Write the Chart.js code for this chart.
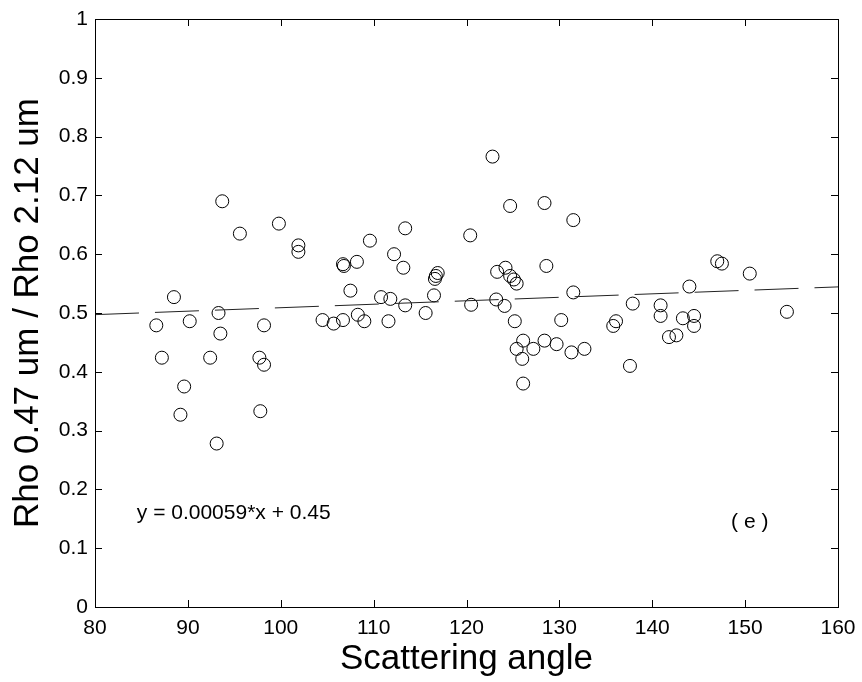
<!DOCTYPE html>
<html>
<head>
<meta charset="utf-8">
<script src="https://cdn.jsdelivr.net/npm/chart.js@4.4.1/dist/chart.umd.min.js"></script>
<style>
  body { margin: 0; background: #fff; }
  #wrap { width: 862px; height: 682px; }
</style>
</head>
<body>
<div id="wrap"><canvas id="scatterChart" width="862" height="682"></canvas></div>
<script>
// scattering angle (deg) and reflectance ratio
const angles = [
  93.7, 95.6, 99.8, 88.5, 86.6, 90.2, 93.3, 93.5, 98.2, 87.2, 92.4, 97.7, 98.2, 89.6, 89.2, 97.8, 93.1,
  101.9, 101.9, 109.6, 113.4, 120.4, 112.2, 113.2, 106.7, 106.8, 108.2, 116.9, 116.7, 116.6, 107.5,
  110.8, 111.8, 116.5, 113.4, 120.5, 115.6, 104.5, 105.7, 106.7, 108.3, 109.0, 111.6,
  122.8, 124.7, 128.4, 131.5, 128.6, 123.3, 124.2, 124.7, 125.1, 125.4, 131.5, 123.2, 124.1, 137.9,
  125.2, 130.2, 140.9, 140.9, 136.1, 135.8, 126.1, 128.4, 129.7, 125.4, 127.2, 131.3, 132.7, 126.0,
  137.6, 126.1,
  141.8, 142.6, 143.3, 144.5, 144.5, 144.0, 147.0, 147.5, 150.5, 154.5
]
const ratios = [
  0.690, 0.635, 0.652, 0.527, 0.479, 0.486, 0.500, 0.465, 0.479, 0.424, 0.424, 0.424, 0.412, 0.375, 0.327, 0.333, 0.278,
  0.615, 0.604, 0.623, 0.644, 0.632, 0.600, 0.577, 0.583, 0.580, 0.587, 0.568, 0.563, 0.558, 0.538,
  0.527, 0.524, 0.530, 0.513, 0.514, 0.500, 0.488, 0.482, 0.488, 0.497, 0.486, 0.486,
  0.766, 0.682, 0.687, 0.658, 0.580, 0.570, 0.577, 0.563, 0.557, 0.550, 0.535, 0.523, 0.512, 0.516,
  0.486, 0.488, 0.513, 0.495, 0.486, 0.478, 0.453, 0.453, 0.447, 0.439, 0.439, 0.433, 0.439, 0.422,
  0.410, 0.380,
  0.459, 0.462, 0.491, 0.495, 0.478, 0.545, 0.588, 0.584, 0.567, 0.502
]

// fitted line y = slope*x + intercept, drawn across the x range
const fitSlope = 0.00059
const fitIntercept = 0.45
const fitRange = [80, 160]

const xTicks = [80, 90, 100, 110, 120, 130, 140, 150, 160]
const yTicks = [0, 0.1, 0.2, 0.3, 0.4, 0.5, 0.6, 0.7, 0.8, 0.9, 1]

const fontFamily = "'Liberation Sans', Arial, Helvetica, sans-serif"

const points = angles.map((a, i) => ({ x: a, y: ratios[i] }))
const fitLine = fitRange.map(x => ({ x: x, y: fitSlope * x + fitIntercept }))

// matlab style box with inward ticks on every side, plus the text notes
const boxPlugin = {
  id: 'boxPlugin',
  afterDatasetsDraw(chart) {
    const ctx = chart.ctx
    const a = chart.chartArea
    const xs = chart.scales.x
    const ys = chart.scales.y
    const tl = 7
    ctx.save()
    ctx.strokeStyle = '#000'
    ctx.lineWidth = 1
    ctx.strokeRect(Math.round(a.left) + 0.5, Math.round(a.top) + 0.5, Math.round(a.right - a.left), Math.round(a.bottom - a.top))
    ctx.beginPath()
    xTicks.forEach(v => {
      const px = Math.round(xs.getPixelForValue(v)) + 0.5
      ctx.moveTo(px, a.bottom); ctx.lineTo(px, a.bottom - tl)
      ctx.moveTo(px, a.top); ctx.lineTo(px, a.top + tl)
    })
    yTicks.forEach(v => {
      const py = Math.round(ys.getPixelForValue(v)) + 0.5
      ctx.moveTo(a.left, py); ctx.lineTo(a.left + tl, py)
      ctx.moveTo(a.right, py); ctx.lineTo(a.right - tl, py)
    })
    ctx.stroke()

    ctx.fillStyle = '#000'
    ctx.font = '21px ' + fontFamily
    ctx.textBaseline = 'middle'
    ctx.textAlign = 'left'
    ctx.fillText('y = 0.00059*x + 0.45', xs.getPixelForValue(84.5), ys.getPixelForValue(0.16))
    ctx.textAlign = 'center'
    ctx.fillText('( e )', xs.getPixelForValue(150.5), ys.getPixelForValue(0.145))
    ctx.restore()
  }
}

const ctx = document.getElementById('scatterChart').getContext('2d')
const chart = new Chart(ctx, {
  type: 'scatter',
  data: {
    datasets: [
      {
        label: 'fit',
        type: 'line',
        data: fitLine,
        borderColor: '#222',
        borderWidth: 1,
        borderDash: [44, 16],
        pointRadius: 0,
        fill: false
      },
      {
        label: 'ratio',
        data: points,
        pointStyle: 'circle',
        pointRadius: 6.5,
        pointBorderWidth: 1,
        pointBorderColor: '#000',
        pointBackgroundColor: 'rgba(0,0,0,0)',
        borderColor: '#000',
        backgroundColor: 'rgba(0,0,0,0)'
      }
    ]
  },
  options: {
    responsive: false,
    animation: false,
    layout: { padding: { top: 19, right: 24, left: 0, bottom: 0 } },
    plugins: {
      legend: { display: false },
      tooltip: { enabled: false }
    },
    scales: {
      x: {
        type: 'linear',
        min: 80,
        max: 160,
        afterBuildTicks: s => { s.ticks = xTicks.map(v => ({ value: v })) },
        afterFit: s => {
          s.height = 75
          s.paddingLeft = 0
          s.paddingRight = 0
        },
        grid: { display: false, drawTicks: false },
        border: { display: false },
        ticks: { color: '#000', padding: 9, font: { size: 21, family: fontFamily }, callback: v => String(v) },
        title: {
          display: true,
          text: 'Scattering angle',
          color: '#000',
          padding: { top: 0, bottom: 2 },
          font: { size: 35, family: fontFamily }
        }
      },
      y: {
        type: 'linear',
        min: 0,
        max: 1,
        afterBuildTicks: s => { s.ticks = yTicks.map(v => ({ value: v })) },
        afterFit: s => {
          s.width = 95
          s.paddingTop = 0
          s.paddingBottom = 0
        },
        grid: { display: false, drawTicks: false },
        border: { display: false },
        ticks: { color: '#000', padding: 7, font: { size: 21, family: fontFamily }, callback: v => String(v) },
        title: {
          display: true,
          text: 'Rho 0.47 um / Rho 2.12 um',
          color: '#000',
          padding: { top: 7, bottom: 0 },
          font: { size: 35, family: fontFamily }
        }
      }
    }
  },
  plugins: [boxPlugin]
})
</script>
</body>
</html>
